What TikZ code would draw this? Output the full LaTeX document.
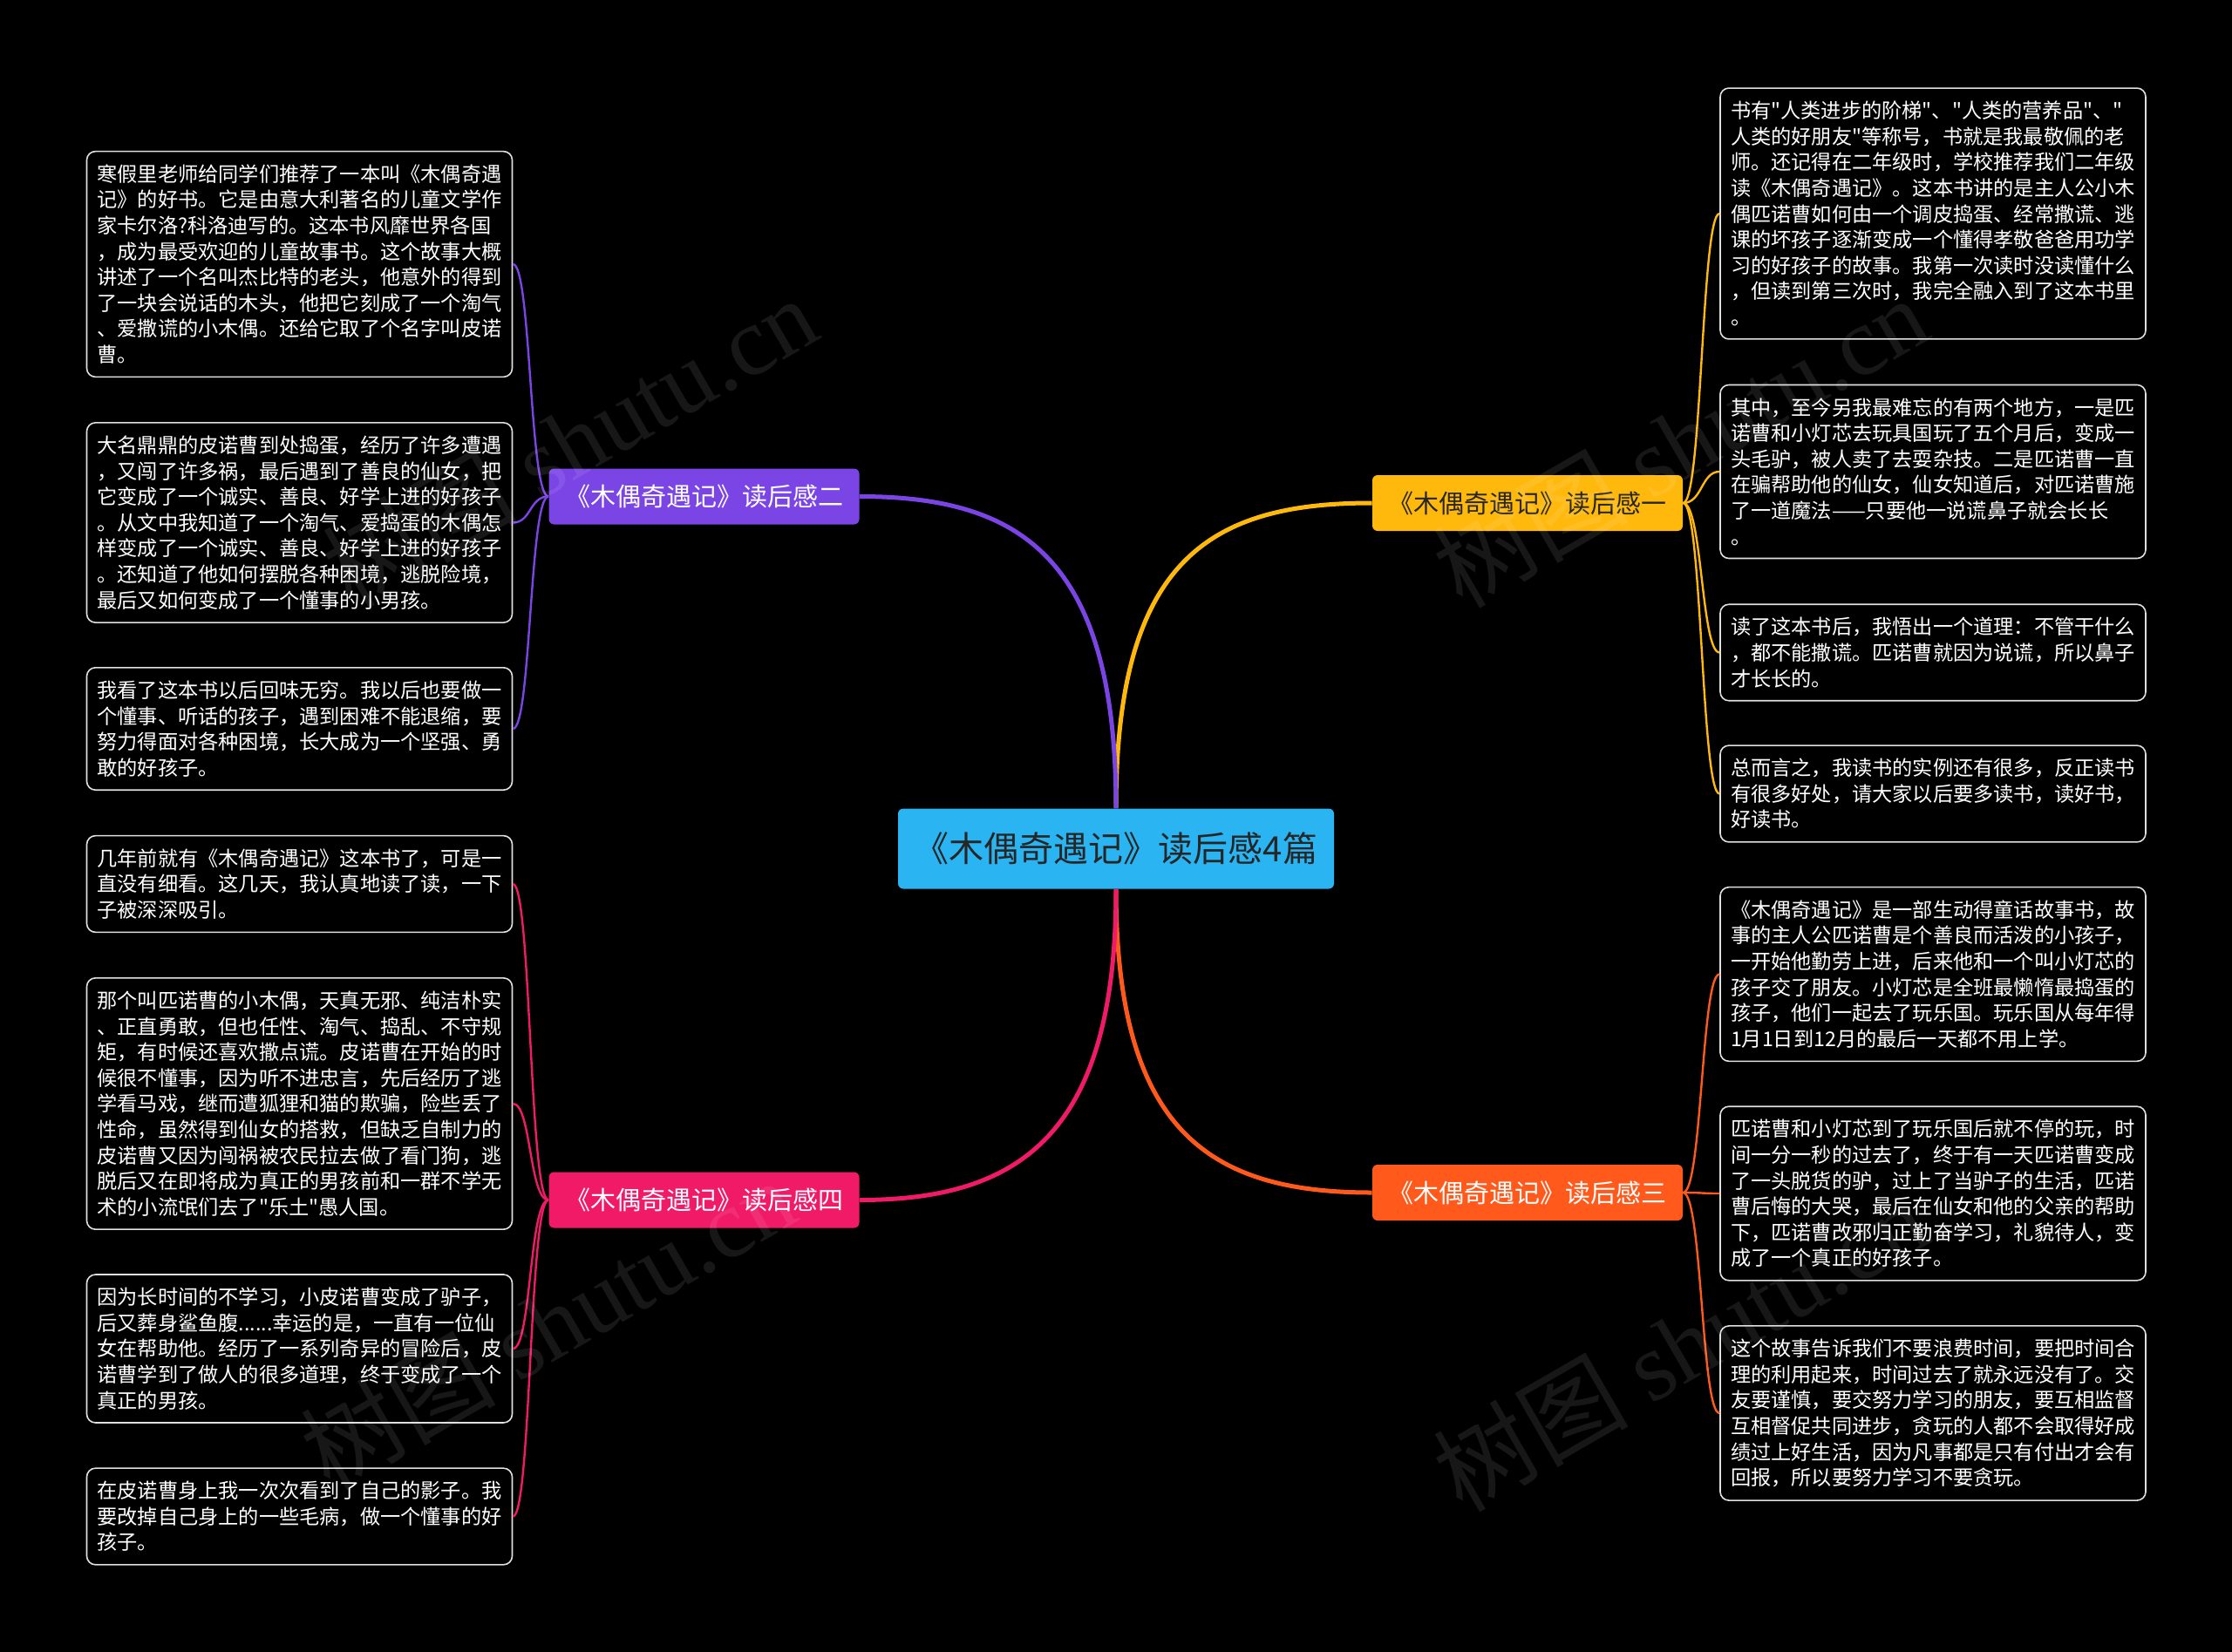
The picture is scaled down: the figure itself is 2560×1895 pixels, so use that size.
\documentclass[tikz,border=0pt]{standalone}
\usepackage{fontspec}
\setmainfont{Noto Sans CJK SC}[Ligatures=TeXOff]
\newfontfamily\wmlatin{Liberation Serif}
\usepackage{tikz}
\usetikzlibrary{calc}
\definecolor{huecenter}{HTML}{2BB4F2}
\definecolor{hueone}{HTML}{FFB80C}
\definecolor{huetwo}{HTML}{7B45E6}
\definecolor{huethree}{HTML}{FF5A1C}
\definecolor{huefour}{HTML}{F01A66}
\tikzset{
  hub/.style={fill=huecenter, rounded corners=3pt, minimum width=250pt, minimum height=46pt,
    text=black!85, font=\fontsize{20}{24}\selectfont},
  topic/.style={rounded corners=3pt, minimum width=178pt, minimum height=32pt,
    font=\fontsize{14.5}{17}\selectfont},
  leaf/.style={draw=white!88!black, line width=0.8pt, fill=black, rounded corners=5pt,
    text=white, align=left, text width=232pt, inner xsep=6pt, inner ysep=7.5pt,
    font=\fontsize{11.6}{14.8}\selectfont},
  stem/.style={line width=2.5pt},
  twig/.style={line width=1.2pt},
}

\begin{document}
\begin{tikzpicture}[x=0.5pt, y=-0.5pt]
    \fill[black] (0,0) rectangle (2560,1895);
    \useasboundingbox (0,0) rectangle (2560,1895);

    % centre and the four topics
    \node[hub] (hub) at (1280,973.5) {《木偶奇遇记》读后感4篇};
    \node[topic, fill=hueone, text=black!85] (t1) at (1752,577) {《木偶奇遇记》读后感一};
    \node[topic, fill=huetwo, text=white] (t2) at (807.5,569.5) {《木偶奇遇记》读后感二};
    \node[topic, fill=huethree, text=white] (t3) at (1752,1368) {《木偶奇遇记》读后感三};
    \node[topic, fill=huefour, text=white] (t4) at (807.5,1376.5) {《木偶奇遇记》读后感四};

    % left column
    \node[leaf] (l1) at (343.5,303) {寒假里老师给同学们推荐了一本叫《木偶奇遇\\
记》的好书。它是由意大利著名的儿童文学作\\
家卡尔洛?科洛迪写的。这本书风靡世界各国\\
，成为最受欢迎的儿童故事书。这个故事大概\\
讲述了一个名叫杰比特的老头，他意外的得到\\
了一块会说话的木头，他把它刻成了一个淘气\\
、爱撒谎的小木偶。还给它取了个名字叫皮诺\\
曹。};
    \node[leaf] (l2) at (343.5,599.5) {大名鼎鼎的皮诺曹到处捣蛋，经历了许多遭遇\\
，又闯了许多祸，最后遇到了善良的仙女，把\\
它变成了一个诚实、善良、好学上进的好孩子\\
。从文中我知道了一个淘气、爱捣蛋的木偶怎\\
样变成了一个诚实、善良、好学上进的好孩子\\
。还知道了他如何摆脱各种困境，逃脱险境，\\
最后又如何变成了一个懂事的小男孩。};
    \node[leaf] (l3) at (343.5,836) {我看了这本书以后回味无穷。我以后也要做一\\
个懂事、听话的孩子，遇到困难不能退缩，要\\
努力得面对各种困境，长大成为一个坚强、勇\\
敢的好孩子。};
    \node[leaf] (l4) at (343.5,1014) {几年前就有《木偶奇遇记》这本书了，可是一\\
直没有细看。这几天，我认真地读了读，一下\\
子被深深吸引。};
    \node[leaf] (l5) at (343.5,1266) {那个叫匹诺曹的小木偶，天真无邪、纯洁朴实\\
、正直勇敢，但也任性、淘气、捣乱、不守规\\
矩，有时候还喜欢撒点谎。皮诺曹在开始的时\\
候很不懂事，因为听不进忠言，先后经历了逃\\
学看马戏，继而遭狐狸和猫的欺骗，险些丢了\\
性命，虽然得到仙女的搭救，但缺乏自制力的\\
皮诺曹又因为闯祸被农民拉去做了看门狗，逃\\
脱后又在即将成为真正的男孩前和一群不学无\\
术的小流氓们去了"乐土"愚人国。};
    \node[leaf] (l6) at (343.5,1547) {因为长时间的不学习，小皮诺曹变成了驴子，\\
后又葬身鲨鱼腹......幸运的是，一直有一位仙\\
女在帮助他。经历了一系列奇异的冒险后，皮\\
诺曹学到了做人的很多道理，终于变成了一个\\
真正的男孩。};
    \node[leaf] (l7) at (343.5,1739.5) {在皮诺曹身上我一次次看到了自己的影子。我\\
要改掉自己身上的一些毛病，做一个懂事的好\\
孩子。};

    % right column
    \node[leaf] (r1) at (2217,245) {书有"人类进步的阶梯"、"人类的营养品"、"\\
人类的好朋友"等称号，书就是我最敬佩的老\\
师。还记得在二年级时，学校推荐我们二年级\\
读《木偶奇遇记》。这本书讲的是主人公小木\\
偶匹诺曹如何由一个调皮捣蛋、经常撒谎、逃\\
课的坏孩子逐渐变成一个懂得孝敬爸爸用功学\\
习的好孩子的故事。我第一次读时没读懂什么\\
，但读到第三次时，我完全融入到了这本书里\\
。};
    \node[leaf] (r2) at (2217,541) {其中，至今另我最难忘的有两个地方，一是匹\\
诺曹和小灯芯去玩具国玩了五个月后，变成一\\
头毛驴，被人卖了去耍杂技。二是匹诺曹一直\\
在骗帮助他的仙女，仙女知道后，对匹诺曹施\\
了一道魔法——只要他一说谎鼻子就会长长\\
。};
    \node[leaf] (r3) at (2217,748.5) {读了这本书后，我悟出一个道理：不管干什么\\
，都不能撒谎。匹诺曹就因为说谎，所以鼻子\\
才长长的。};
    \node[leaf] (r4) at (2217,910.5) {总而言之，我读书的实例还有很多，反正读书\\
有很多好处，请大家以后要多读书，读好书，\\
好读书。};
    \node[leaf] (r5) at (2217,1117.5) {《木偶奇遇记》是一部生动得童话故事书，故\\
事的主人公匹诺曹是个善良而活泼的小孩子，\\
一开始他勤劳上进，后来他和一个叫小灯芯的\\
孩子交了朋友。小灯芯是全班最懒惰最捣蛋的\\
孩子，他们一起去了玩乐国。玩乐国从每年得\\
1月1日到12月的最后一天都不用上学。};
    \node[leaf] (r6) at (2217,1369) {匹诺曹和小灯芯到了玩乐国后就不停的玩，时\\
间一分一秒的过去了，终于有一天匹诺曹变成\\
了一头脱货的驴，过上了当驴子的生活，匹诺\\
曹后悔的大哭，最后在仙女和他的父亲的帮助\\
下，匹诺曹改邪归正勤奋学习，礼貌待人，变\\
成了一个真正的好孩子。};
    \node[leaf] (r7) at (2217,1621) {这个故事告诉我们不要浪费时间，要把时间合\\
理的利用起来，时间过去了就永远没有了。交\\
友要谨慎，要交努力学习的朋友，要互相监督\\
互相督促共同进步，贪玩的人都不会取得好成\\
绩过上好生活，因为凡事都是只有付出才会有\\
回报，所以要努力学习不要贪玩。};

    % hub to topics
    \draw[stem, hueone] (hub.north) .. controls +(0,-287) and +(-184,0) .. (t1.west);
    \draw[stem, huetwo] (hub.north) .. controls +(0,-287) and +(185,0) .. (t2.east);
    \draw[stem, huethree] (hub.south) .. controls +(0,280) and +(-184,0) .. (t3.west);
    \draw[stem, huefour] (hub.south) .. controls +(0,280) and +(185,0) .. (t4.east);

    % topics to leaves
    \foreach \leaf in {r1,r2,r3,r4}
        \draw[twig, hueone] (t1.east) .. controls +(22,0) and +(-21,0) .. (\leaf.west);
    \foreach \leaf in {l1,l2,l3}
        \draw[twig, huetwo] (t2.west) .. controls +(-22,0) and +(21,0) .. (\leaf.east);
    \foreach \leaf in {r5,r6,r7}
        \draw[twig, huethree] (t3.east) .. controls +(22,0) and +(-21,0) .. (\leaf.west);
    \foreach \leaf in {l4,l5,l6,l7}
        \draw[twig, huefour] (t4.west) .. controls +(-22,0) and +(21,0) .. (\leaf.east);

    % watermarks
    \foreach \wx/\wy in {653/506, 1927/506, 628/1518, 1927/1543}
        \node[rotate=30, text=white, opacity=0.09, font=\fontsize{56}{56}\selectfont]
            at (\wx,\wy) {树图 {\wmlatin shutu.cn}};
\end{tikzpicture}
\end{document}
